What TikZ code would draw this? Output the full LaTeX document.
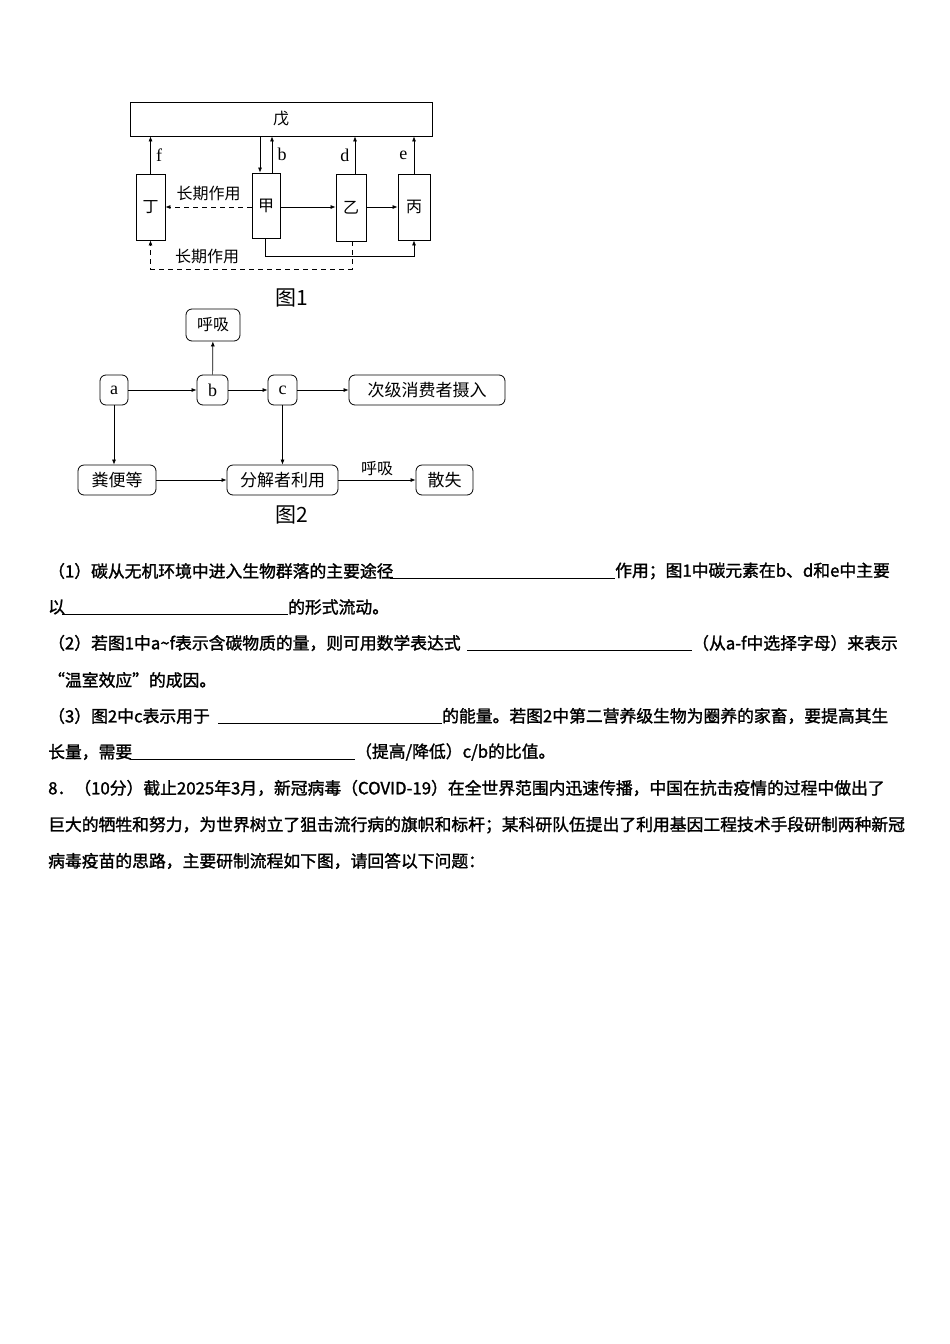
\documentclass[tikz,border=0pt]{standalone}
\usepackage{fontspec}
\setmainfont{Liberation Serif}
\newfontfamily\cjk{Noto Sans CJK SC}
\newfontfamily\cjkb{Noto Sans CJK SC}[FakeBold=1.5]
\usetikzlibrary{arrows.meta}
\begin{document}
\begin{tikzpicture}[x=1pt,y=-1pt,
  box/.style={draw,line width=0.8pt,inner sep=0pt,font=\cjk\fontsize{16}{16}\selectfont},
  rbox/.style={draw,line width=0.8pt,rounded corners=6pt,inner sep=0pt,font=\cjk\fontsize{16}{16}\selectfont},
  ar/.style={-{Latex[length=5pt,width=4pt]},line width=0.7pt},
  dar/.style={ar,dashed,dash pattern=on 5pt off 4pt},
  lab/.style={font=\cjk\fontsize{16}{16}\selectfont},
  let/.style={font=\fontsize{18}{18}\selectfont},
  txt/.style={anchor=west,inner sep=0pt,font=\cjkb\fontsize{16.8}{17}\selectfont},
  blank/.style={line width=0.9pt}]
\useasboundingbox (0,0) rectangle (950,1344);
% Figure 1
\node[box,minimum width=302pt,minimum height=34pt] (wu) at (281,119) {戊};
\node[box,minimum width=29pt,minimum height=66pt] (ding) at (150.5,207) {丁};
\node[box,minimum width=28pt,minimum height=65pt] (jia) at (266,205.5) {甲};
\node[box,minimum width=30pt,minimum height=67pt] (yi) at (351,207.5) {乙};
\node[box,minimum width=32pt,minimum height=66pt] (bing) at (414,207) {丙};
\coordinate (h) at (0,207);
\draw[ar] (ding.north) -- (ding.north |- wu.south) node[let,midway,right=2pt] {f};
\draw[ar] ([xshift=-6pt]jia.north |- wu.south) -- ([xshift=-6pt]jia.north);
\draw[ar] ([xshift=6pt]jia.north) -- ([xshift=6pt]jia.north |- wu.south) node[let,midway,right=2pt] {b};
\draw[ar] ([xshift=4pt]yi.north) -- ([xshift=4pt]yi.north |- wu.south) node[let,midway,left=2pt] {d};
\draw[ar] (bing.north) -- (bing.north |- wu.south) node[let,midway,left=3pt] {e};
\draw[dar] (jia.west |- h) -- (ding.east |- h) node[lab,midway,above=2pt] {长期作用};
\draw[ar] (jia.east |- h) -- (yi.west |- h);
\draw[ar] (yi.east |- h) -- (bing.west |- h);
\coordinate (c1) at (265,256);
\draw[ar] (jia.south -| c1) -- (c1) -| (bing.south);
\coordinate (c2) at (352,269);
\draw[dar] (yi.south -| c2) -- (c2) -| (ding.south);
\node[lab] (l2) at (207,256) {长期作用};
\node[font=\cjk\fontsize{21}{21}\selectfont] (f1) at (292,298) {图1};
% Figure 2
\node[rbox,minimum width=54pt,minimum height=32pt] (hx) at (213,325) {呼吸};
\node[rbox,minimum width=28pt,minimum height=30pt,font=\fontsize{18}{18}\selectfont] (a) at (114,390) {a};
\node[rbox,minimum width=31pt,minimum height=30pt,font=\fontsize{18}{18}\selectfont] (b) at (212.5,390) {b};
\node[rbox,minimum width=29pt,minimum height=30pt,font=\fontsize{18}{18}\selectfont] (c) at (282.5,390) {c};
\node[rbox,minimum width=156pt,minimum height=30pt,font=\cjk\fontsize{17}{17}\selectfont] (cj) at (427,390) {次级消费者摄入};
\node[rbox,minimum width=78pt,minimum height=30pt,font=\cjk\fontsize{17}{17}\selectfont] (fb) at (117,480) {粪便等};
\node[rbox,minimum width=111pt,minimum height=30pt,font=\cjk\fontsize{17}{17}\selectfont] (fj) at (282.5,480) {分解者利用};
\node[rbox,minimum width=57pt,minimum height=30pt,font=\cjk\fontsize{17}{17}\selectfont] (ss) at (444.5,480) {散失};
\draw[ar] (b) -- (hx);
\draw[ar] (a) -- (b);
\draw[ar] (b) -- (c);
\draw[ar] (c) -- (cj);
\draw[ar] (a.south) -- (a.south |- fb.north);
\draw[ar] (c) -- (fj);
\draw[ar] (fb) -- (fj);
\draw[ar] (fj) -- (ss) node[lab,midway,above=1pt] {呼吸};
\node[font=\cjk\fontsize{21}{21}\selectfont] (f2) at (292,515) {图2};
% Text
\node[txt] (t1) at (48,571) {（1）碳从无机环境中进入生物群落的主要途径};
\draw[blank] (390,578) -- (615,578);
\node[txt] (t1b) at (615,571) {作用；图1中碳元素在b、d和e中主要};
\node[txt] (t2) at (48,607) {以};
\draw[blank] (62,614) -- (288,614);
\node[txt] (t2b) at (288,607) {的形式流动。};
\node[txt] (t3) at (48,643) {（2）若图1中a\textasciitilde f表示含碳物质的量，则可用数学表达式};
\draw[blank] (467,650) -- (692,650);
\node[txt] (t3b) at (692,643) {（从a-f中选择字母）来表示};
\node[txt] (t4) at (48,680) {“温室效应”的成因。};
\node[txt] (t5) at (48,716) {（3）图2中c表示用于};
\draw[blank] (218,723) -- (442,723);
\node[txt] (t5b) at (442,716) {的能量。若图2中第二营养级生物为圈养的家畜，要提高其生};
\node[txt] (t6) at (48,752) {长量，需要};
\draw[blank] (130,759) -- (355,759);
\node[txt] (t6b) at (355,752) {（提高/降低）c/b的比值。};
\node[txt] (t7) at (48,788) {8．（10分）截止2025年3月，新冠病毒（COVID-19）在全世界范围内迅速传播，中国在抗击疫情的过程中做出了};
\node[txt] (t8) at (48,825) {巨大的牺牲和努力，为世界树立了狙击流行病的旗帜和标杆；某科研队伍提出了利用基因工程技术手段研制两种新冠};
\node[txt] (t9) at (48,861) {病毒疫苗的思路，主要研制流程如下图，请回答以下问题：};
\end{tikzpicture}
\end{document}
